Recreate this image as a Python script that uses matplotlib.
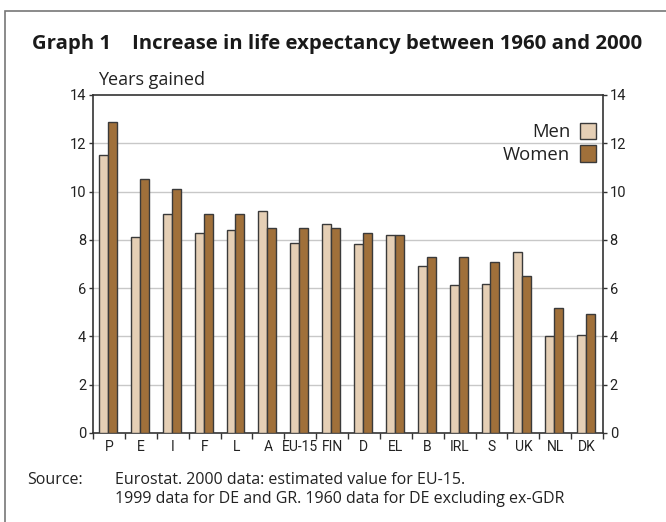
import numpy as np
import matplotlib.pyplot as plt
from matplotlib.patches import Rectangle, Patch

countries = ["P", "E", "I", "F", "L", "A", "EU-15", "FIN", "D", "EL", "B", "IRL", "S", "UK", "NL", "DK"]
men = [11.5, 8.1, 9.07, 8.28, 8.4, 9.2, 7.88, 8.67, 7.82, 8.22, 6.9, 6.12, 6.17, 7.5, 4.0, 4.07]
women = [12.88, 10.52, 10.12, 9.07, 9.07, 8.48, 8.48, 8.48, 8.28, 8.22, 7.3, 7.3, 7.1, 6.5, 5.19, 4.93]

c_men = "#e5cfb5"
c_women = "#a0703a"
c_edge = "#3a3a3a"

narrow = ["Roboto", "DejaVu Sans"]
plt.rcParams['font.family'] = ["Open Sans", "DejaVu Sans"]

fig = plt.figure(figsize=(6.66, 5.22), dpi=100)
W, H = 666, 522
ax = fig.add_axes([93 / W, 1 - 433 / H, 510 / W, 338 / H])

x = np.arange(len(countries))
bw = 0.28
ax.bar(x - bw / 2 - 0.03, men, bw, color=c_men, edgecolor=c_edge, linewidth=1.0, zorder=3)
ax.bar(x + bw / 2 - 0.03, women, bw, color=c_women, edgecolor=c_edge, linewidth=1.0, zorder=3)

ax.set_xlim(-0.5, len(countries) - 0.5)
ax.set_ylim(0, 14)
ax.set_yticks(range(0, 15, 2))
for v in range(2, 14, 2):
    ax.axhline(v, color="#c8c8c8", linewidth=1.0, zorder=1)

# ticks at category boundaries, labels in the middle
ax.set_xticks(np.arange(-0.5, len(countries), 1.0))
ax.set_xticklabels([])
ax.set_xticks(x, minor=True)
ax.set_xticklabels(countries, minor=True, family=narrow, fontsize=10, color="#222222")
ax.tick_params(axis="x", which="major", length=4, width=1, color="#333333", direction="out")
ax.tick_params(axis="x", which="minor", length=0, pad=5)
ax.tick_params(axis="y", length=3, width=1, color="#333333", direction="out",
               labelsize=10.5, labelcolor="#222222", left=True, right=True,
               labelleft=True, labelright=True, pad=1.8)
for lab in ax.get_yticklabels():
    lab.set_family(narrow)

for s in ax.spines.values():
    s.set_color("#333333")
    s.set_linewidth(1.2)

# legend on the right, text before the boxes
leg = ax.legend(handles=[Patch(facecolor=c_men, edgecolor=c_edge, label="Men"),
                         Patch(facecolor=c_women, edgecolor=c_edge, label="Women")],
                loc="upper right", bbox_to_anchor=(1.005, 0.945), frameon=False,
                fontsize=13.3, markerfirst=False, handlelength=0.9, handleheight=1.0,
                handletextpad=0.5, labelspacing=0.2, borderpad=0.0)
for t in leg.get_texts():
    t.set_ha("right")
    t.set_color("#222222")

fig.text(32 / W, 1 - 44 / H, "Graph 1    Increase in life expectancy between 1960 and 2000",
         fontsize=14.7, fontweight="bold", color="#1a1a1a", va="center", ha="left")
fig.text(98 / W, 1 - 80 / H, "Years gained", fontsize=13, color="#222222", va="center")

fig.text(27 / W, 1 - 480 / H, "Source:", fontsize=11.5, color="#222222", va="center")
fig.text(115 / W, 1 - 480 / H, "Eurostat. 2000 data: estimated value for EU-15.",
         fontsize=11.5, color="#222222", va="center")
fig.text(115 / W, 1 - 499 / H, "1999 data for DE and GR. 1960 data for DE excluding ex-GDR",
         fontsize=11.5, color="#222222", va="center")

# outer frame
fig.patches.append(Rectangle((5 / W, -0.1), 1.0, 1 - 11 / H + 0.1, transform=fig.transFigure,
                             fill=False, edgecolor="#777777", linewidth=1.2))

fig.savefig("out.png", dpi=100)
